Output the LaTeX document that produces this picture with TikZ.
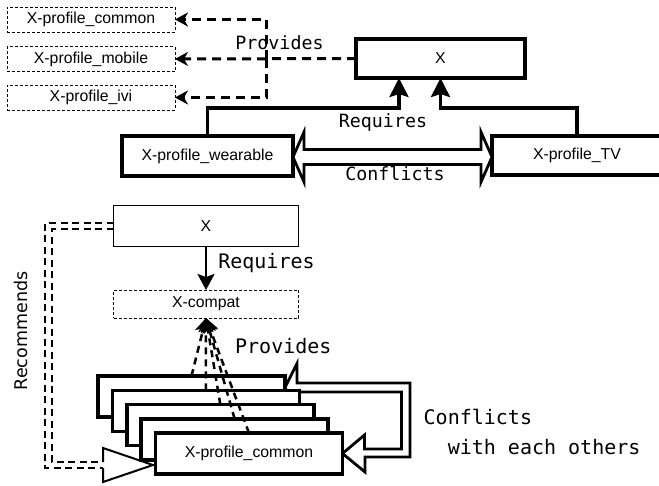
\documentclass[tikz,border=0pt]{standalone}
\usepackage{fontspec}
\setmainfont{Liberation Sans}
\newfontfamily\monofam{DejaVu Sans Mono}
\newfontfamily\dvsans{DejaVu Sans}
\usetikzlibrary{arrows.meta,calc}

\tikzset{
  lbl/.style={font=\fontsize{15.8}{18}\selectfont},
  dotbox/.style={draw, dash pattern=on 3pt off 2pt, line width=1pt, inner sep=0pt, outer sep=0pt, lbl},
  heavybox/.style={draw, line width=3.5pt, fill=white, inner sep=0pt, outer sep=0pt, lbl},
  thinbox/.style={draw, line width=1pt, fill=white, inner sep=0pt, outer sep=0pt, lbl},
  stackbox/.style={heavybox, minimum width=187pt, minimum height=41pt},
  reqtop/.style={line width=3.5pt, -{Stealth[length=19pt,width=19pt,inset=3pt]}},
  reqlow/.style={line width=2pt, -{Stealth[length=16pt,width=17pt,inset=3pt]}},
  provtop/.style={line width=3pt, dash pattern=on 9pt off 6pt, -{Stealth[length=13pt,width=14pt,inset=4pt]}},
  provlow/.style={line width=2.5pt, dash pattern=on 7pt off 5pt, -{Stealth[length=14pt,width=15pt,inset=3pt]}},
  recdash/.style={line width=2.5pt, dash pattern=on 7pt off 4.5pt},
  hollow/.style={line width=2.8pt, fill=white, line join=miter},
  monotop/.style={font=\monofam\fontsize{18.3}{22}\selectfont, inner sep=0pt, anchor=base},
  monolow/.style={font=\monofam\fontsize{20}{30}\selectfont, inner sep=0pt},
}

\begin{document}
\begin{tikzpicture}[x=1pt, y=-1pt]
\useasboundingbox (0,0) rectangle (659,485);
\clip (0,0) rectangle (659,485);

% ---------- upper part: profiles of X ----------
\node[dotbox, minimum width=168pt, minimum height=25pt] (pc) at (91,19.5) {X-profile\_common};
\node[dotbox, minimum width=168pt, minimum height=25pt] (pm) at (91,59) {X-profile\_mobile};
\node[dotbox, minimum width=168pt, minimum height=25pt] (pi) at (91,97.5) {X-profile\_ivi};

\node[heavybox, minimum width=169pt, minimum height=39pt] (xtop) at (440.5,58.5) {X};
\node[heavybox, minimum width=171pt, minimum height=40pt] (wear) at (207.5,156) {X-profile\_wearable};
\node[heavybox, minimum width=170pt, minimum height=39pt] (tv) at (577,155.5) {X-profile\_TV};

% provides: X -> the three dotted profiles
\coordinate (pj) at ($(pm.east)+(91,0)$);
\draw[provtop] (xtop.west) -- (pm.east);
\draw[provtop] (pj) |- (pc.east);
\draw[provtop] (pj) |- (pi.east);
\node[monotop] (provA) at (279.5,49.3) {Provides};

% requires: wearable / TV -> X
\draw[reqtop] (wear.north) |- ($(xtop.south)+(-41.5,30)$) -- ($(xtop.south)+(-41.5,0)$);
\draw[reqtop] (tv.north) |- ($(xtop.south)+(0,30)$) -- (xtop.south);
\node[monotop] (reqA) at (383,127.5) {Requires};

% conflicts: hollow double-headed arrow
\coordinate (cl) at ($(wear.east)+(0,1)$);
\coordinate (cr) at ($(tv.west)+(0,1.5)$);
\draw[hollow] (cl) -- ++(11,-25) -- ++(0,17.5) -- ($(cr)+(-11,-7.5)$) -- ++(0,-17.5)
  -- (cr) -- ++(-11,25) -- ++(0,-17.5) -- ($(cl)+(11,7.5)$) -- ++(0,17.5) -- cycle;
\node[monotop] (conA) at (395,180) {Conflicts};

% ---------- lower part: compat package ----------
\node[thinbox, minimum width=185pt, minimum height=41pt] (xb) at (206,226) {X};
\node[dotbox, minimum width=185pt, minimum height=28pt] (xc) at (206,304) {X-compat};
\draw[reqlow] (xb.south) -- (xc.north);
\node[monotop, font=\monofam\fontsize{20}{24}\selectfont] (reqB) at (266.5,268) {Requires};

% recommends: hollow dashed arrow from X to the front profile
\coordinate (rtip) at (153,465);
\draw[recdash] ($(xb.west)+(0,-3)$) -| ($(rtip)+(-108,3)$) -- ($(rtip)+(-50,3)$);
\draw[recdash] ($(xb.west)+(0,3)$) -| ($(rtip)+(-101,-3)$) -- ($(rtip)+(-50,-3)$);
\draw[line width=2pt, line join=miter, fill=white] ($(rtip)+(-50,-3)$) -- ++(0,-14) -- (rtip)
  -- ($(rtip)+(-50,17)$) -- ++(0,-14);
\node[rotate=90, font=\dvsans\fontsize{17.5}{20}\selectfont, inner sep=0pt] (recl) at (21,331) {Recommends};

% stacked profiles, back to front
\node[stackbox] (s1) at (191.5,396.5) {};
\coordinate (cA) at ($(s1.east)+(0,-9)$);
\coordinate (cB) at ($(s1.east)+(57.5,57)$);
\draw[hollow] (cA) -- ++(12,-24) -- ++(0,19.5) -- ++(113,0) -- ++(0,74) -- ++(-45,0)
  -- ++(0,15) -- (cB) -- ++(22,-18.5) -- ++(0,14) -- ++(37,0) -- ++(0,-57)
  -- ++(-105,0) -- ++(0,19.5) -- cycle;
\node[stackbox] (s2) at (205.9,410.75) {};
\node[stackbox] (s3) at (220.3,425) {};
\node[stackbox] (s4) at (234.6,439.25) {};
\node[stackbox] (s5) at (249,453.5) {X-profile\_common};

% provides: every profile -> X-compat
\foreach \i in {1,...,5}
  \draw[provlow] (s\i.north) -- (xc.south);
\node[monotop, font=\monofam\fontsize{20}{24}\selectfont] (provB) at (283.3,353) {Provides};

% two-line label; its base anchor sits on the last line
\node[monolow, anchor=base west, align=left] (conB) at (423.5,454.3) {Conflicts\\\phantom{Co}with each others};
\end{tikzpicture}
\end{document}
